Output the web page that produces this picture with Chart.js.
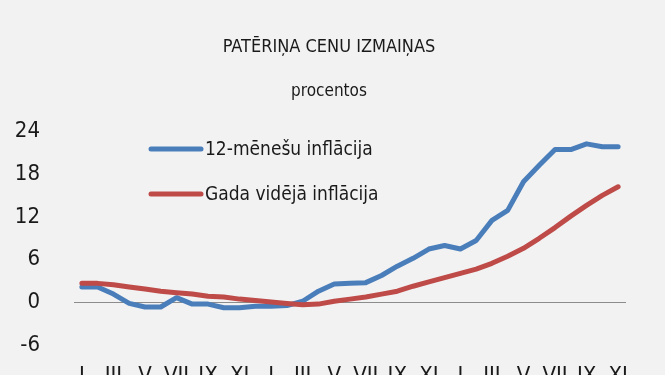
<!DOCTYPE html>
<html>
<head>
<meta charset="utf-8">
<script src="https://cdn.jsdelivr.net/npm/chart.js@4/dist/chart.umd.min.js"></script>
<style>
  html, body { margin: 0; padding: 0; background: #f2f2f2; overflow: hidden; }
  canvas { display: block; }
</style>
</head>
<body>
<canvas id="myChart" width="665" height="406" style="width:665px;height:406px"></canvas>
<script>
// months I..XI shown every second month, Jan of year 1 to Nov of year 3
const monthLabels = ["I", "", "III", "", "V", "", "VII", "", "IX", "", "XI", ""];
const categories = [...monthLabels, ...monthLabels, ...monthLabels].slice(0, 35);

const inflation12 = [
    2.2, 2.2, 1.2, -0.1, -0.6, -0.6, 0.7, -0.2, -0.2, -0.7, -0.7, -0.5,
    -0.5, -0.4, 0.2, 1.6, 2.6, 2.7, 2.8, 3.8, 5.1, 6.2, 7.5, 8.0,
    7.5, 8.7, 11.5, 12.9, 16.9, 19.2, 21.4, 21.4, 22.2, 21.8, 21.8
];
const inflationAvg = [
    2.7, 2.7, 2.5, 2.2, 1.9, 1.6, 1.4, 1.2, 0.9, 0.8, 0.5, 0.3,
    0.1, -0.1, -0.3, -0.2, 0.2, 0.5, 0.8, 1.2, 1.6, 2.3, 2.9, 3.5,
    4.1, 4.7, 5.5, 6.5, 7.6, 9.0, 10.5, 12.1, 13.6, 15.0, 16.2
];
const yTicks = [-6, 0, 6, 12, 18, 24];

const FONT = "'DejaVu Sans Condensed', 'Liberation Sans Narrow', sans-serif";
const TEXT = "#1a1a1a";

// legend drawn inside the plot, top left
const innerLegend = {
    id: "innerLegend",
    afterDatasetsDraw(chart) {
        const ctx = chart.ctx;
        const rows = [149, 194];
        ctx.save();
        ctx.font = "19px " + FONT;
        ctx.textBaseline = "middle";
        ctx.fillStyle = TEXT;
        chart.data.datasets.forEach((ds, i) => {
            const y = rows[i];
            ctx.strokeStyle = ds.borderColor;
            ctx.lineWidth = 5;
            ctx.lineCap = "round";
            ctx.beginPath();
            ctx.moveTo(151, y);
            ctx.lineTo(201, y);
            ctx.stroke();
            ctx.fillText(ds.label, 205, y + 1);
        });
        ctx.restore();
    }
};

const ctx = document.getElementById("myChart").getContext("2d");
new Chart(ctx, {
    type: "line",
    data: {
        labels: categories,
        datasets: [
            {
                label: "12-mēnešu inflācija",
                data: inflation12,
                borderColor: "#4a7ebb",
                borderWidth: 5,
                pointRadius: 0,
                tension: 0,
                borderCapStyle: "round",
                borderJoinStyle: "round",
                order: 1
            },
            {
                label: "Gada vidējā inflācija",
                data: inflationAvg,
                borderColor: "#be4b48",
                borderWidth: 5,
                pointRadius: 0,
                tension: 0,
                borderCapStyle: "round",
                borderJoinStyle: "round",
                order: 0
            }
        ]
    },
    options: {
        responsive: false,
        animation: false,
        devicePixelRatio: 1,
        layout: { padding: { left: 0, right: 7, top: 0, bottom: 0 } },
        plugins: {
            legend: { display: false },
            tooltip: { enabled: false },
            title: {
                display: true,
                text: "PATĒRIŅA CENU IZMAIŅAS",
                color: TEXT,
                font: { family: FONT, size: 18, weight: "normal" },
                padding: { top: 37, bottom: 23 }
            },
            subtitle: {
                display: true,
                text: "procentos",
                color: TEXT,
                font: { family: FONT, size: 17, weight: "normal" },
                padding: { top: 0, bottom: 29 }
            }
        },
        scales: {
            x: {
                offset: true,
                grid: { display: false, drawTicks: false },
                border: { display: false },
                ticks: {
                    color: TEXT,
                    font: { family: FONT, size: 22 },
                    autoSkip: false,
                    maxRotation: 0,
                    padding: 17
                }
            },
            y: {
                min: yTicks[0],
                max: yTicks[yTicks.length - 1],
                afterBuildTicks: scale => {
                    scale.ticks = yTicks.map(v => ({ value: v }));
                },
                afterFit: scale => { scale.width = 74; },
                border: { display: false },
                grid: {
                    drawTicks: false,
                    color: c => (c.tick && c.tick.value === 0 ? "#8c8c8c" : "rgba(0,0,0,0)"),
                    lineWidth: 1
                },
                ticks: {
                    color: TEXT,
                    font: { family: FONT, size: 22 },
                    padding: 34
                }
            },
            // empty right axis, only keeps the plot clear of the right edge
            yRight: {
                position: "right",
                min: yTicks[0],
                max: yTicks[yTicks.length - 1],
                grid: { display: false, drawTicks: false },
                border: { display: false },
                ticks: { display: false },
                afterFit: scale => { scale.width = 32; }
            }
        }
    },
    plugins: [innerLegend]
});
</script>
</body>
</html>
